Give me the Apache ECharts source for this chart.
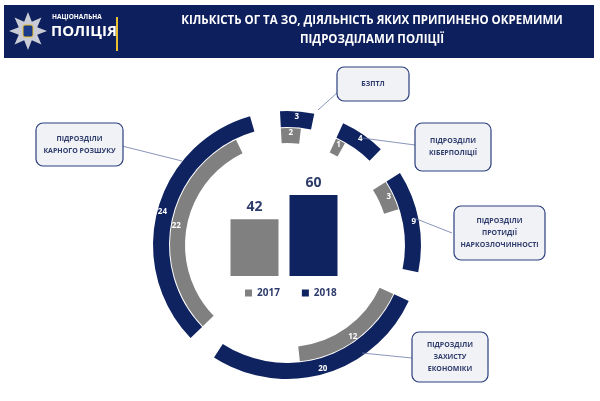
<!DOCTYPE html>
<html>
<head>
<meta charset="utf-8">
<script src="https://cdn.jsdelivr.net/npm/echarts@6/dist/echarts.min.js"></script>
<style>html,body{margin:0;padding:0;background:#fff}#c{width:600px;height:401px}</style>
</head>
<body>
<div id="c"></div>
<script>
// підрозділи, за годинниковою стрілкою від верху
const units = ["БЗПТЛ", "Кіберполіція", "Наркозлочинність", "Захист економіки", "Карний розшук"];
const values2017 = [2, 1, 3, 12, 22];
const values2018 = [3, 4, 9, 20, 24];
const totals = ["2017", "2018"];
const totalValues = [42, 60];

const NAVY = "#0f2360";
const GREY = "#808080";
const TEXT = "#2e3c6c";
const GAP = 2.65; // проміжок між секторами, в одиницях даних
const CX = 287, CY = 245;

const hidden = { color: "rgba(0,0,0,0)" };
const outerData = [];
const innerData = [];
values2018.forEach((v, i) => {
  outerData.push({ name: units[i], value: v });
  outerData.push({ name: "gap" + i, value: GAP, itemStyle: hidden, label: { show: false } });
  innerData.push({ name: units[i], value: values2017[i] });
  innerData.push({ name: "gap" + i, value: v - values2017[i] + GAP, itemStyle: hidden, label: { show: false } });
});

const ringLabel = { show: true, position: "inside", formatter: "{c}", color: "#fff", fontSize: 8, fontWeight: "bold", fontFamily: "Open Sans" };

// рамка з підписом
const box = (x, y, w, h, text) => [
  { type: "rect", shape: { x, y, width: w, height: h, r: 7 }, style: { fill: "#f1f2f6", stroke: "#2b3e7e", lineWidth: 1.2 }, z: 10 },
  { type: "text", x: x + w / 2, y: y + h / 2, z: 11,
    style: { text, fill: TEXT, font: "bold 7px 'Open Sans'", align: "center", verticalAlign: "middle", lineHeight: 12 } },
];
const line = (x1, y1, x2, y2) => ({ type: "line", shape: { x1, y1, x2, y2 }, style: { stroke: "#6a7aa8", lineWidth: 0.8 }, z: 5 });

const star = [];
for (let k = 0; k < 16; k++) {
  const a = (Math.PI * 2 * k) / 16 - Math.PI / 2;
  const r = k % 2 ? 10 : 19;
  star.push([28 + r * Math.cos(a), 31 + r * Math.sin(a)]);
}

const chart = echarts.init(document.getElementById("c"));
chart.setOption({
  animation: false,
  grid: { left: 225, width: 118, top: 195, bottom: 125 },
  xAxis: { type: "category", data: totals, show: false },
  yAxis: { type: "value", min: 0, max: 60, show: false },
  legend: {
    left: 240, top: 283, itemWidth: 7, itemHeight: 7, itemGap: 22, icon: "rect",
    textStyle: { color: TEXT, fontSize: 10, fontWeight: "bold", fontFamily: "Open Sans" },
    data: totals,
  },
  series: [
    {
      name: "2017", type: "bar", stack: "t", barWidth: 48,
      data: [totalValues[0], "-"], itemStyle: { color: GREY },
      label: { show: true, position: "top", color: TEXT, fontSize: 14, fontWeight: "bold", fontFamily: "Open Sans" },
    },
    {
      name: "2018", type: "bar", stack: "t", barWidth: 48,
      data: ["-", totalValues[1]], itemStyle: { color: NAVY },
      label: { show: true, position: "top", color: TEXT, fontSize: 14, fontWeight: "bold", fontFamily: "Open Sans" },
    },
    {
      type: "pie", center: [CX, CY], radius: [118, 134], startAngle: 93, clockwise: true,
      silent: true, itemStyle: { color: NAVY }, label: ringLabel, labelLine: { show: false },
      data: outerData,
    },
    {
      type: "pie", center: [CX, CY], radius: [102, 117], startAngle: 93, clockwise: true,
      silent: true, itemStyle: { color: GREY }, label: ringLabel, labelLine: { show: false },
      data: innerData,
    },
  ],
  graphic: [
    { type: "rect", shape: { x: 4, y: 5, width: 590, height: 53 }, style: { fill: "#0d1f5c" } },
    { type: "polygon", shape: { points: star }, style: { fill: "#c9ccd6" } },
    { type: "rect", shape: { x: 23, y: 25, width: 10, height: 12, r: 2 }, style: { fill: "#1a3a8a", stroke: "#e8c030", lineWidth: 1 } },
    { type: "text", x: 52, y: 14, style: { text: "НАЦІОНАЛЬНА", fill: "#fff", font: "bold 6.5px 'Open Sans'" } },
    { type: "text", x: 51, y: 24, style: { text: "ПОЛІЦІЯ", fill: "#fff", font: "bold 15px 'Open Sans'" } },
    { type: "rect", shape: { x: 116, y: 17, width: 2, height: 34 }, style: { fill: "#e8c030" } },
    { type: "text", x: 372, y: 15, style: { text: "КІЛЬКІСТЬ ОГ ТА ЗО, ДІЯЛЬНІСТЬ ЯКИХ ПРИПИНЕНО ОКРЕМИМИ", fill: "#fff", font: "bold 11.5px 'Open Sans'", align: "center" } },
    { type: "text", x: 372, y: 34, style: { text: "ПІДРОЗДІЛАМИ ПОЛІЦІЇ", fill: "#fff", font: "bold 11.5px 'Open Sans'", align: "center" } },
    line(318, 110, 338, 92),
    line(362, 138, 415, 145),
    line(414, 218, 452, 233),
    line(362, 353, 412, 358),
    line(122, 146, 182, 161),
    ...box(337, 67, 72, 34, "БЗПТЛ"),
    ...box(415, 123, 76, 48, "ПІДРОЗДІЛИ\nКІБЕРПОЛІЦІЇ"),
    ...box(454, 206, 91, 54, "ПІДРОЗДІЛИ\nПРОТИДІЇ\nНАРКОЗЛОЧИННОСТІ"),
    ...box(412, 332, 76, 50, "ПІДРОЗДІЛИ\nЗАХИСТУ\nЕКОНОМІКИ"),
    ...box(36, 123, 87, 43, "ПІДРОЗДІЛИ\nКАРНОГО РОЗШУКУ"),
  ],
});
</script>
</body>
</html>
